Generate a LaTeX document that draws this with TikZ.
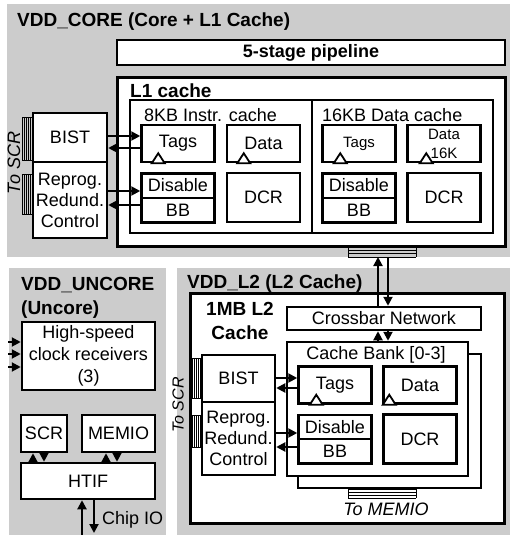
\documentclass[tikz,border=0pt]{standalone}
\usepackage{fontspec}
\setmainfont{Liberation Sans}
\usetikzlibrary{arrows.meta}
\definecolor{vddgray}{gray}{0.8}

\begin{document}
\begin{tikzpicture}[x=1pt, y=-1pt,
    font=\fontsize{18}{21}\selectfont,
    box/.style={draw, line width=2.5pt, fill=white, inner sep=0pt, align=center},
    cell/.style={box, minimum width=73pt, minimum height=37pt},
    half/.style={box, minimum width=73pt, minimum height=24.5pt},
    tall/.style={box, minimum width=73pt, minimum height=49pt},
    title/.style={font=\fontsize{19}{24}\selectfont\bfseries, inner sep=0pt, align=left},
    small/.style={font=\fontsize{15}{19}\selectfont},
    portlabel/.style={font=\fontsize{18}{21}\selectfont\itshape, inner sep=0pt},
    arr/.style={line width=2pt, -{Triangle[length=9pt,width=9pt]}},
    clk/.style={draw, line width=1.8pt, fill=white},
    port/.style={line width=0.8pt}]
\useasboundingbox (0,0) rectangle (510,535);

% Draw the three power domains
\fill[vddgray] (7,4) rectangle (510,257);
\fill[vddgray] (9,268) rectangle (166,535);
\fill[vddgray] (177,268) rectangle (510,535);

% VDD_CORE: pipeline and L1 cache
\node[title, anchor=west] (coretitle) at (17,22) {VDD\_CORE (Core + L1 Cache)};
\node[box, minimum width=388pt, minimum height=25pt] (pipe) at (311,52.5) {\bfseries 5-stage pipeline};
\node[box, line width=3pt, minimum width=388pt, minimum height=169pt] (l1) at (311,161.5) {};
\node[title, anchor=west] (l1title) at (130,91) {L1 cache};
\node[box, minimum width=182pt, minimum height=133pt] (icache) at (221,166.5) {};
\node[box, minimum width=181pt, minimum height=133pt] (dcache) at (402.5,166.5) {};
\node[anchor=west, inner sep=0pt] (ilabel) at (144,115.5) {8KB Instr. cache};
\node[anchor=west, inner sep=0pt] (dlabel) at (322,115.5) {16KB Data cache};

\node[cell] (itags) at (178,143.5) {Tags};
\node[cell] (idata) at (263.5,143.5) {Data};
\node[half] (idis) at (178,185.5) {Disable};
\node[half] (ibb) at (178,210) {BB};
\node[tall] (idcr) at (263.5,197.5) {DCR};

\node[cell, small] (dtags) at (359,143.5) {Tags};
\node[cell, small] (ddata) at (444,143.5) {Data\\16K};
\node[half] (ddis) at (359,185.5) {Disable};
\node[half] (dbb) at (359,210) {BB};
\node[tall] (ddcr) at (444,197.5) {DCR};

\node[box, minimum width=74pt, minimum height=49pt] (bist) at (70,137.5) {BIST};
\node[box, minimum width=74pt, minimum height=76pt] (reprog) at (70,200) {Reprog.\\Redund.\\Control};
\node[portlabel, rotate=90] (corescr) at (14,163) {To SCR};

% VDD_L2: crossbar and cache banks
\node[title, anchor=west] (l2title) at (187,283.5) {VDD\_L2 (L2 Cache)};
\node[box, line width=3pt, minimum width=314pt, minimum height=230pt] (l2) at (347,408) {};
\node[title, align=center] (l2name) at (240,321) {1MB L2\\Cache};
\node[box, minimum width=194pt, minimum height=23pt] (xbar) at (384,318.5) {Crossbar Network};
\node[box, minimum width=183pt, minimum height=134pt] (bankback) at (389.5,421) {};
\node[box, minimum width=181pt, minimum height=134pt] (bank) at (377.5,409) {};
\node[inner sep=0pt] (banklabel) at (376,355) {Cache Bank [0-3]};

\node[cell] (ltags) at (335,385) {Tags};
\node[cell] (ldata) at (420,385) {Data};
\node[half] (ldis) at (335,427) {Disable};
\node[half] (lbb) at (335,451) {BB};
\node[tall] (ldcr) at (420,439) {DCR};

\node[box, minimum width=73pt, minimum height=47pt] (lbist) at (238.5,378.5) {BIST};
\node[box, minimum width=73pt, minimum height=73pt] (lreprog) at (238.5,438.5) {Reprog.\\Redund.\\Control};
\node[portlabel, font=\fontsize{16}{19}\selectfont\itshape, rotate=90] (l2scr) at (178,405) {To SCR};
\node[portlabel] (memioport) at (386,509) {To MEMIO};

% VDD_UNCORE
\node[title, anchor=north west] (uncoretitle) at (21,277.5) {VDD\_UNCORE\\(Uncore)};
\node[box, font=\fontsize{18}{22}\selectfont, minimum width=133pt, minimum height=68pt] (hsclk) at (88.5,356) {High-speed\\clock receivers\\(3)};
\node[box, minimum width=46pt, minimum height=37pt] (scr) at (44,433.5) {SCR};
\node[box, minimum width=73pt, minimum height=37pt] (memio) at (118.5,433.5) {MEMIO};
\node[box, minimum width=134pt, minimum height=36pt] (htif) at (88,481) {HTIF};
\node[anchor=west, inner sep=0pt] (chipio) at (102,520) {Chip IO};

% clock pins on the arrays
\foreach \b/\o in {itags/18, idata/18, dtags/19, ddata/20, ltags/19, ldata/7}
  \draw[clk] ([xshift=\o pt]\b.south west) -- ++(-6.5,0) -- ++(6.5,-10) -- ++(6.5,10) -- cycle;

% scan chain ports
\foreach \xa/\ya/\xb/\yb in {22/117/33/160, 22/174/33/214, 192/358/202/398, 192/415/202/447} {
  \draw[port] (\xa,\ya) rectangle (\xb,\yb);
  \foreach \k in {1,...,4}
    \draw[port] ({\xa+\k*(\xb-\xa)/5},\ya) -- ({\xa+\k*(\xb-\xa)/5},\yb);
}

% memory buses
\foreach \ya/\yb in {247/257, 489/498} {
  \draw[port] (348,\ya) -- (348,\yb) (416,\ya) -- (416,\yb);
  \foreach \k in {0,...,3}
    \draw[port] (348,{\ya+\k*(\yb-\ya)/3}) -- (416,{\ya+\k*(\yb-\ya)/3});
}

% BIST and redundancy links
\draw[arr] (bist.east |- 0,136) -- (itags.west |- 0,136);
\draw[arr] (itags.west |- 0,148) -- (bist.east |- 0,148);
\draw[arr] (reprog.east |- 0,191) -- (idis.west |- 0,191);
\draw[arr] (ibb.west |- 0,205) -- (reprog.east |- 0,205);
\draw[arr] (lbist.east |- 0,378) -- (ltags.west |- 0,378);
\draw[arr] (ltags.west |- 0,388) -- (lbist.east |- 0,388);
\draw[arr] (lreprog.east |- 0,433) -- (ldis.west |- 0,433);
\draw[arr] (lbb.west |- 0,447) -- (lreprog.east |- 0,447);

% L1 to crossbar to banks
\coordinate (busup) at (378,257);
\coordinate (busdown) at (388,257);
\draw[arr] (xbar.north -| busup) -- (busup);
\draw[arr] (busdown) -- (xbar.north -| busdown);
\draw[arr] (bank.north -| busup) -- (xbar.south -| busup);
\draw[arr] (xbar.south -| busdown) -- (bank.north -| busdown);

% uncore links
\foreach \y [count=\i] in {342,354,367} {
  \coordinate (clkin\i) at (8,\y);
  \draw[arr] (clkin\i) -- (clkin\i -| hsclk.west);
}
\draw[arr] (htif.north -| 33,0) -- (scr.south -| 33,0);
\draw[arr] (scr.south -| 44,0) -- (htif.north -| 44,0);
\draw[arr] (htif.north -| 106,0) -- (memio.south -| 106,0);
\draw[arr] (memio.south -| 117,0) -- (htif.north -| 117,0);
\coordinate (chipin) at (82,535);
\coordinate (chipout) at (94,533);
\draw[arr] (chipin) -- (htif.south -| chipin);
\draw[arr] (htif.south -| chipout) -- (chipout);
\end{tikzpicture}
\end{document}
